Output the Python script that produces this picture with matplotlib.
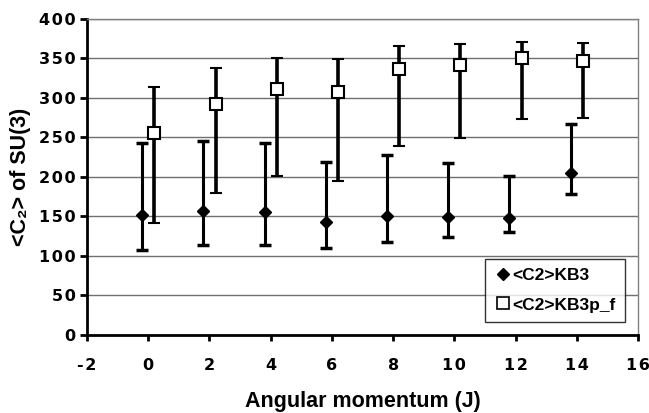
import matplotlib
matplotlib.use("Agg")
import matplotlib.pyplot as plt
from matplotlib.lines import Line2D
import numpy as np

J = [0, 2, 4, 6, 8, 10, 12, 14]
kb3 = [151, 157, 155.5, 143, 150, 149.5, 147.5, 204.5]
kb3_hi = [243, 245.5, 243, 218.5, 227, 217, 201, 267]
kb3_lo = [107, 113, 113, 109.5, 117.5, 124, 130, 178]
kb3p = [256, 292, 311, 307.5, 337, 342, 350, 346.5]
kb3p_hi = [314, 338.5, 350.5, 349, 365.5, 368.5, 371, 370]
kb3p_lo = [142, 180, 201, 195, 239.5, 249, 273, 274]
xticks = [-2, 0, 2, 4, 6, 8, 10, 12, 14, 16]
yticks = [0, 50, 100, 150, 200, 250, 300, 350, 400]

plt.rcParams['font.family'] = ['Liberation Sans', 'DejaVu Sans']
plt.rcParams['font.weight'] = 'bold'

def spaced(v):
    return '\u200a'.join(str(v))

fig = plt.figure(figsize=(6.49, 4.13), dpi=100)
ax = fig.add_axes([0.134, 0.190, 0.849, 0.764])

x1 = np.array(J) - 0.2
x2 = np.array(J) + 0.2
k = np.array(kb3); kh = np.array(kb3_hi); kl = np.array(kb3_lo)
p = np.array(kb3p); ph = np.array(kb3p_hi); pl = np.array(kb3p_lo)

ax.errorbar(x1, k, yerr=[k - kl, kh - k], fmt='D', color='black', ms=6.5,
            mfc='black', mec='black', ecolor='black', elinewidth=2.2,
            capsize=4, capthick=2.5, zorder=3)
ax.errorbar(x2, p, yerr=[p - pl, ph - p], fmt='s', color='black', ms=8,
            mfc='white', mec='black', mew=1.5, ecolor='black', elinewidth=2.6,
            capsize=4, capthick=2.5, zorder=3)

ax.set_xlim(-2, 16)
ax.set_ylim(0, 400)
ax.set_xticks(xticks)
ax.set_yticks(yticks)
tfont = dict(family='DejaVu Sans', fontsize=11.5, fontweight='heavy')
ax.set_xticklabels([spaced(v) for v in xticks], **tfont)
ax.set_yticklabels([spaced(v) for v in yticks], **tfont)
ax.yaxis.grid(True, color='#707070', lw=1)
ax.set_axisbelow(True)
for s in ['top', 'right']:
    ax.spines[s].set_color('#808080')
    ax.spines[s].set_linewidth(1)
for s in ['left', 'bottom']:
    ax.spines[s].set_color('black')
    ax.spines[s].set_linewidth(2)
ax.tick_params(axis='both', direction='out', length=5, width=2, color='black', pad=3)
ax.tick_params(axis='x', length=4, pad=13)

ax.set_xlabel('Angular momentum (J)', fontsize=15.5, fontweight='bold', labelpad=13)
ax.set_ylabel('<C₂> of SU(3)', fontsize=15.5, fontweight='bold', labelpad=6)

handles = [Line2D([], [], ls='none', marker='D', ms=6.5, mfc='black', mec='black'),
           Line2D([], [], ls='none', marker='s', ms=8, mfc='white', mec='black', mew=1.2)]
leg = ax.legend(handles, ['<C2>KB3', '<C2>KB3p_f'], loc='lower right', fontsize=12.5,
                frameon=True, fancybox=False, edgecolor='black', borderpad=0.55,
                handletextpad=0.05, handlelength=1.0, labelspacing=0.8,
                bbox_to_anchor=(0.993, 0.012))
leg.get_frame().set_linewidth(1)
for t in leg.get_texts():
    t.set_fontweight('bold')

fig.savefig('out.png', dpi=100)
